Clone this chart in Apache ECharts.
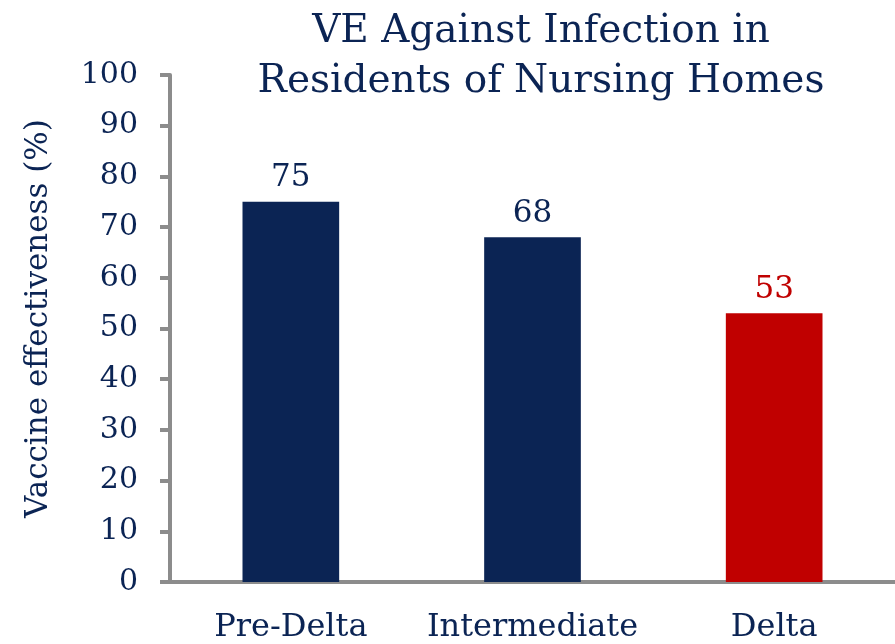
<!DOCTYPE html>
<html>
<head>
<meta charset="utf-8">
<script src="https://cdn.jsdelivr.net/npm/echarts@6/dist/echarts.min.js"></script>
<style>
  html, body { margin: 0; padding: 0; background: #fff; }
  #main { width: 895px; height: 644px; }
</style>
</head>
<body>
<div id="main"></div>
<script>
// chart data
var categories = ['Pre-Delta', 'Intermediate', 'Delta'];
var veValues = [75, 68, 53];
var barColors = ['#0b2454', '#0b2454', '#c00000'];

var navy = '#0b2454';
var serif = '"DejaVu Serif", "Liberation Serif", serif';

var chart = echarts.init(document.getElementById('main'));

var option = {
	backgroundColor: '#fff',
	title: {
		text: 'VE Against Infection in\nResidents of Nursing Homes',
		left: 536,
		textAlign: 'center',
		top: 2,
		textStyle: { color: navy, fontFamily: serif, fontWeight: 'normal', fontSize: 39, lineHeight: 50 }
	},
	grid: { left: 170, right: 0, top: 75, bottom: 62 },
	xAxis: {
		type: 'category',
		data: categories,
		axisLine: { lineStyle: { color: '#8c8c8c', width: 4 } },
		axisTick: { show: false },
		axisLabel: { color: navy, fontFamily: serif, fontSize: 32, margin: 30, interval: 0 }
	},
	yAxis: {
		type: 'value',
		min: 0,
		max: 100,
		interval: 10,
		name: 'Vaccine effectiveness (%)',
		nameLocation: 'middle',
		nameGap: 116,
		nameTextStyle: { color: navy, fontFamily: serif, fontSize: 31, padding: [0, 0, 0, 20] },
		axisLine: { show: true, lineStyle: { color: '#8c8c8c', width: 4 } },
		axisTick: { show: true, length: 10, lineStyle: { color: '#8c8c8c', width: 4 } },
		axisLabel: { color: navy, fontFamily: serif, fontSize: 30, margin: 32 },
		splitLine: { show: false }
	},
	series: [{
		type: 'bar',
		barWidth: '40%',
		data: veValues.map(function (v, i) {
			return {
				value: v,
				itemStyle: { color: barColors[i] },
				label: { color: barColors[i] }
			};
		}),
		label: {
			show: true,
			position: 'top',
			distance: 8,
			fontFamily: serif,
			fontSize: 31
		}
	}]
};

chart.setOption(option);
</script>
</body>
</html>
